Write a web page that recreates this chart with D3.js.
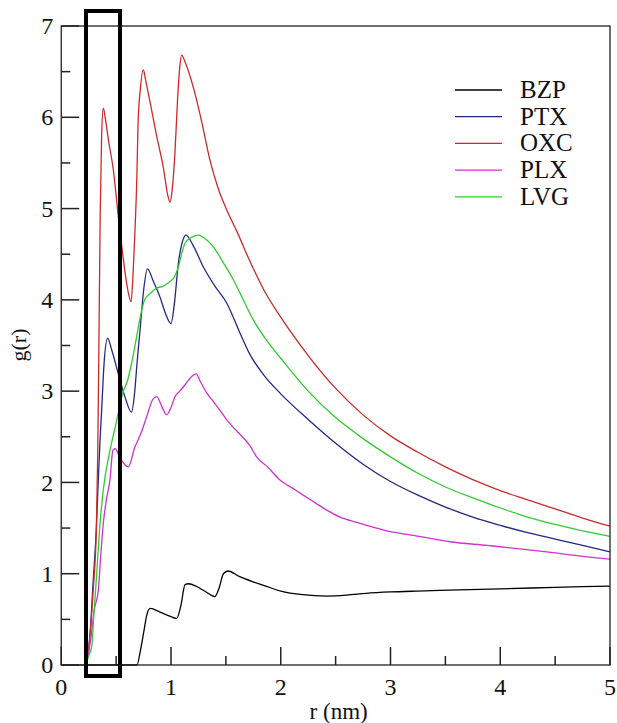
<!DOCTYPE html>
<html><head><meta charset="utf-8">
<script src="https://cdn.jsdelivr.net/npm/d3@7"></script>
<style>body{margin:0;background:#fff}svg{display:block}text{font-family:"Liberation Serif","Times New Roman",serif;fill:#111}</style>
</head><body><div id="chart"></div>
<script>
const seriesNames = ["BZP","PTX","OXC","PLX","LVG"];
const seriesColors = ["#000000","#1f2a80","#cc2a2a","#cc33cc","#2ecc2e"];
const xTicks = [0,1,2,3,4,5];
const yTicks = [0,1,2,3,4,5,6,7];
const xMinorTicks = [0.5,1.5,2.5,3.5,4.5];
const yMinorTicks = [0.5,1.5,2.5,3.5,4.5,5.5,6.5];

const BZP = [[0,0],[0.69,0],[0.72,0.15],[0.75,0.35],[0.78,0.55],[0.81,0.62],[0.90,0.58],[1.00,0.53],[1.052,0.51],[1.09,0.65],[1.128,0.88],[1.16,0.89],[1.234,0.86],[1.32,0.80],[1.40,0.75],[1.44,0.85],[1.477,1.0],[1.52,1.03],[1.62,0.97],[1.75,0.91],[1.85,0.87],[2.0,0.81],[2.2,0.77],[2.42,0.755],[2.6,0.765],[2.78,0.785],[3.0,0.80],[3.24,0.81],[3.54,0.82],[4.0,0.835],[4.5,0.85],[5.0,0.865]];
const PTX = [[0,0],[0.22,0],[0.26,0.3],[0.29,0.9],[0.32,1.5],[0.34,2.1],[0.355,2.5],[0.368,2.79],[0.39,3.3],[0.423,3.58],[0.46,3.45],[0.52,3.19],[0.58,2.94],[0.64,2.77],[0.67,3.0],[0.69,3.3],[0.718,3.67],[0.75,4.1],[0.785,4.34],[0.84,4.2],[0.90,4.03],[0.95,3.85],[1.0,3.74],[1.03,3.95],[1.067,4.40],[1.10,4.62],[1.137,4.71],[1.2,4.6],[1.295,4.36],[1.4,4.15],[1.51,3.96],[1.62,3.66],[1.72,3.40],[1.85,3.17],[2.0,2.97],[2.25,2.69],[2.5,2.43],[2.75,2.20],[3.0,2.01],[3.25,1.86],[3.5,1.73],[3.75,1.62],[4.0,1.53],[4.25,1.45],[4.5,1.38],[4.75,1.31],[5.0,1.24]];
const OXC = [[0,0],[0.22,0],[0.26,0.3],[0.29,0.8],[0.32,1.5],[0.333,2.35],[0.347,4.0],[0.355,4.95],[0.368,5.8],[0.383,6.1],[0.40,6.0],[0.43,5.75],[0.475,5.42],[0.52,4.91],[0.56,4.5],[0.60,4.15],[0.636,3.98],[0.655,4.3],[0.672,4.76],[0.69,5.4],[0.70,5.94],[0.72,6.3],[0.748,6.52],[0.77,6.4],[0.82,6.1],[0.87,5.79],[0.93,5.45],[0.97,5.15],[0.991,5.07],[1.01,5.2],[1.036,5.61],[1.06,6.2],[1.08,6.55],[1.097,6.68],[1.13,6.6],[1.203,6.33],[1.28,5.95],[1.355,5.53],[1.43,5.22],[1.51,4.98],[1.60,4.75],[1.72,4.42],[1.85,4.1],[2.0,3.81],[2.25,3.39],[2.5,3.03],[2.75,2.74],[3.0,2.51],[3.25,2.33],[3.5,2.17],[3.75,2.03],[4.0,1.91],[4.25,1.81],[4.5,1.71],[4.75,1.61],[5.0,1.52]];
const PLX = [[0,0],[0.22,0],[0.27,0.3],[0.30,0.6],[0.338,0.82],[0.36,1.2],[0.383,1.55],[0.41,1.8],[0.444,2.03],[0.47,2.35],[0.49,2.37],[0.535,2.27],[0.611,2.17],[0.672,2.39],[0.687,2.43],[0.73,2.55],[0.778,2.72],[0.83,2.9],[0.87,2.94],[0.92,2.82],[0.96,2.74],[1.0,2.82],[1.036,2.94],[1.08,3.0],[1.128,3.07],[1.18,3.15],[1.228,3.19],[1.27,3.1],[1.325,2.98],[1.39,2.88],[1.446,2.79],[1.50,2.70],[1.57,2.60],[1.65,2.50],[1.72,2.40],[1.78,2.28],[1.88,2.17],[1.99,2.03],[2.13,1.92],[2.27,1.81],[2.40,1.71],[2.54,1.62],[2.70,1.56],[2.84,1.51],[3.0,1.46],[3.15,1.43],[3.3,1.40],[3.54,1.35],[3.88,1.31],[4.2,1.27],[4.48,1.23],[4.75,1.19],[5.0,1.16]];
const LVG = [[0,0],[0.22,0],[0.25,0.1],[0.277,0.2],[0.30,0.6],[0.323,1.0],[0.35,1.5],[0.383,1.92],[0.444,2.35],[0.50,2.65],[0.566,3.0],[0.60,3.1],[0.64,3.3],[0.68,3.55],[0.718,3.8],[0.76,4.0],[0.82,4.08],[0.87,4.13],[0.93,4.15],[0.99,4.2],[1.03,4.25],[1.067,4.36],[1.10,4.52],[1.128,4.62],[1.18,4.68],[1.249,4.71],[1.30,4.68],[1.386,4.58],[1.47,4.42],[1.568,4.22],[1.65,4.02],[1.75,3.78],[1.875,3.55],[2.0,3.36],[2.25,3.00],[2.5,2.71],[2.75,2.48],[3.0,2.28],[3.25,2.10],[3.5,1.95],[3.75,1.83],[4.0,1.72],[4.25,1.62],[4.5,1.54],[4.75,1.47],[5.0,1.41]];
const seriesData = [BZP,PTX,OXC,PLX,LVG];

const W = 617, H = 723;
const pLeft = 61.25, pRight = 610, pTop = 26, pBottom = 665;
const svg = d3.select("#chart").append("svg").attr("width", W).attr("height", H);
const x = d3.scaleLinear().domain([0,5]).range([pLeft,pRight]);
const y = d3.scaleLinear().domain([0,7]).range([pBottom,pTop]);
const axisColor = "#222";

// series
const line = d3.line().x(d=>x(d[0])).y(d=>y(d[1])).curve(d3.curveMonotoneX);
seriesData.forEach((s,i)=>{
  svg.append("path").datum(s).attr("d",line).attr("fill","none")
    .attr("stroke",seriesColors[i]).attr("stroke-width",1.3);
});

// frame
svg.append("rect").attr("x",pLeft).attr("y",pTop).attr("width",pRight-pLeft).attr("height",pBottom-pTop)
  .attr("fill","none").attr("stroke",axisColor).attr("stroke-width",1.3);

// ticks (inward) as thin rects
const tickG = svg.append("g");
function tickRect(x0,y0,w,h){ tickG.append("rect").attr("x",x0).attr("y",y0).attr("width",w).attr("height",h).attr("fill",axisColor); }
xTicks.forEach(v=>tickRect(x(v)-0.75, pBottom-18, 1.5, 18));
xMinorTicks.forEach(v=>tickRect(x(v)-0.75, pBottom-9, 1.5, 9));
yTicks.forEach(v=>tickRect(pLeft, y(v)-0.75, 18, 1.5));
yMinorTicks.forEach(v=>tickRect(pLeft, y(v)-0.75, 9, 1.5));

// tick labels
svg.append("g").selectAll("text").data(xTicks).join("text")
  .attr("x",d=>x(d)).attr("y",pBottom+30).attr("text-anchor","middle").attr("font-size",24).text(d=>d);
svg.append("g").selectAll("text").data(yTicks).join("text")
  .attr("x",pLeft-8).attr("y",d=>y(d)).attr("dy","0.34em").attr("text-anchor","end").attr("font-size",24).text(d=>d);

// axis titles
svg.append("text").attr("x",(pLeft+pRight)/2+3).attr("y",719).attr("text-anchor","middle")
  .attr("font-size",23).text("r (nm)");
svg.append("text").attr("transform","translate(26,345) rotate(-90)").attr("text-anchor","middle")
  .attr("font-size",22).text("g(r)");

// legend
const lg = svg.append("g");
seriesNames.forEach((n,i)=>{
  const yy = 90 + i*26.7;
  lg.append("line").attr("x1",455).attr("x2",502).attr("y1",yy).attr("y2",yy)
    .attr("stroke",seriesColors[i]).attr("stroke-width",1.3);
  lg.append("text").attr("x",520).attr("y",yy+8).attr("font-size",25).text(n);
});

// highlight box
svg.append("rect").attr("x",86).attr("y",11).attr("width",34).attr("height",665)
  .attr("fill","none").attr("stroke","#000").attr("stroke-width",4);
</script></body></html>
